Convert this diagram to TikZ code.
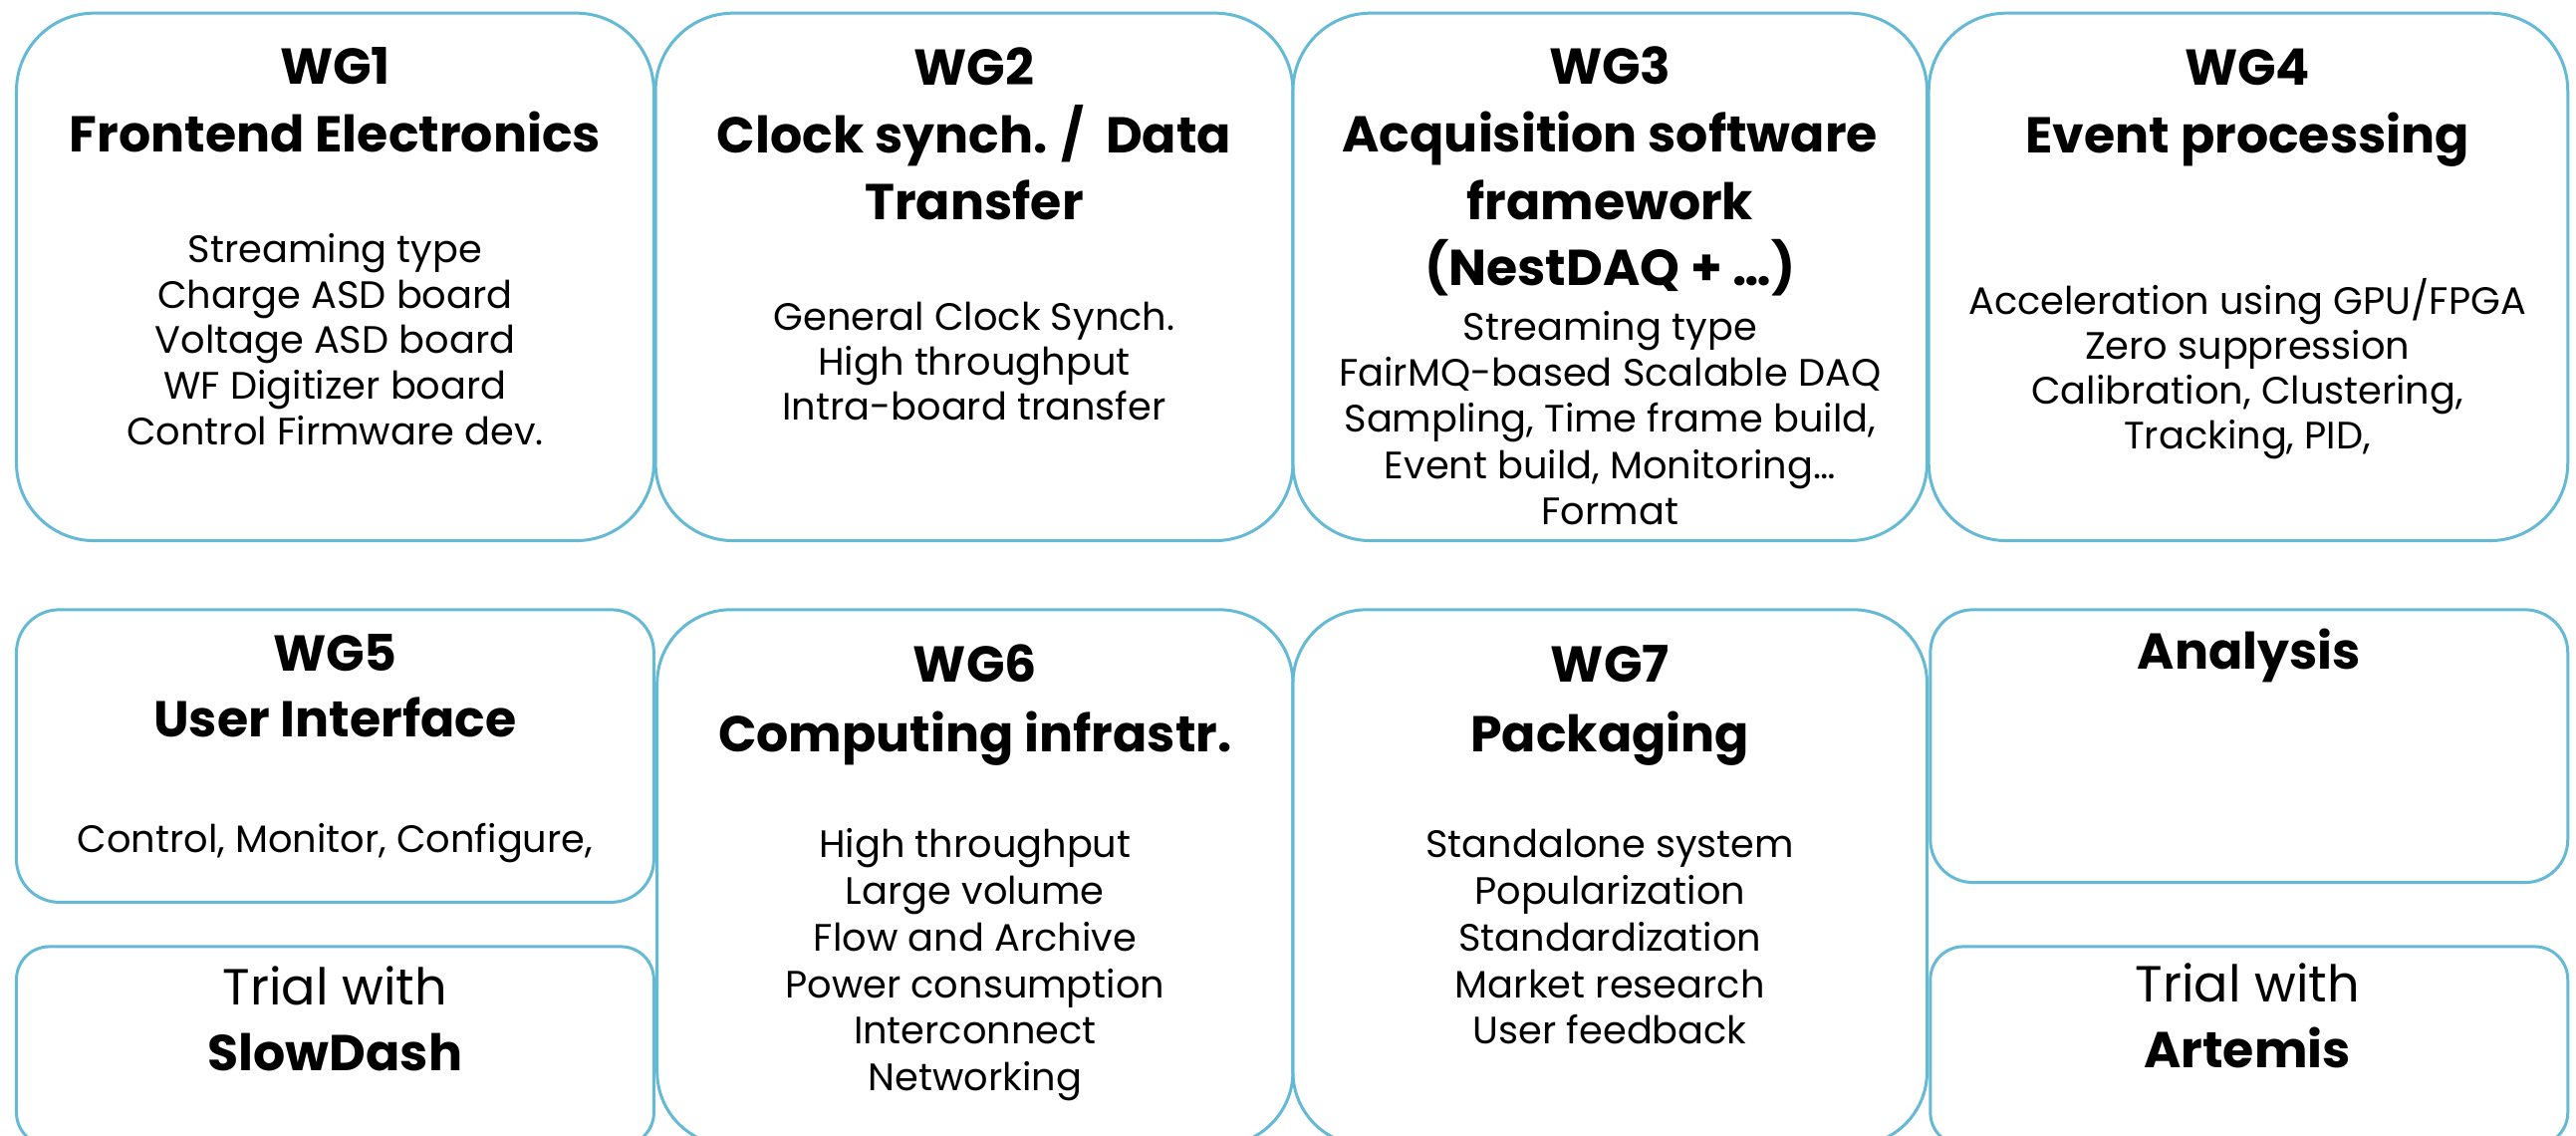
\documentclass[tikz,border=0pt]{standalone}
\usepackage{fontspec}
\setmainfont{Poppins}
\definecolor{boxblue}{RGB}{100,186,214}
\tikzset{
  box/.style={draw=boxblue, line width=0.85pt},
  ttl/.style={font=\fontsize{14.4}{16}\selectfont\bfseries, anchor=mid, inner sep=0pt},
  bdy/.style={font=\fontsize{10.9}{12}\selectfont, anchor=mid, inner sep=0pt},
  big/.style={font=\fontsize{14.5}{16}\selectfont, anchor=mid, inner sep=0pt},
}
\begin{document}
\begin{tikzpicture}[x=0.016492cm, y=-0.016492cm]
\useasboundingbox (0,0) rectangle (1568,691);
\fill[white] (0,0) rectangle (1568,691);
\clip (0,0) rectangle (1568,691);
% boxes
\draw[box, rounded corners=0.78cm] (10,8) rectangle (398,329);
\draw[box, rounded corners=0.78cm] (399,8) rectangle (787,329);
\draw[box, rounded corners=0.78cm] (787,8) rectangle (1173,329);
\draw[box, rounded corners=0.78cm] (1174,8) rectangle (1563,329);
\draw[box, rounded corners=0.43cm] (10,371) rectangle (398,549);
\draw[box, rounded corners=0.33cm] (10,576) rectangle (398,697);
\draw[box, rounded corners=0.74cm] (400,371) rectangle (787,697);
\draw[box, rounded corners=0.74cm] (787,371) rectangle (1173,697);
\draw[box, rounded corners=0.43cm] (1175,371) rectangle (1563,537);
\draw[box, rounded corners=0.33cm] (1175,576) rectangle (1563,697);
% WG1
\node[ttl] (wg1t1) at (204,45.5) {WG1};
\node[ttl] (wg1t2) at (204,86.6) {Frontend Electronics};
\foreach \t [count=\i from 0] in {Streaming type, Charge ASD board, Voltage ASD board, WF Digitizer board, Control Firmware dev.}
  \node[bdy] (wg1b\i) at (204,154+27.7*\i) {\t};
% WG2
\node[ttl] (wg2t1) at (593,46) {WG2};
\node[ttl] (wg2t2) at (593,87) {Clock synch. /~ Data};
\node[ttl] (wg2t3) at (593,128) {Transfer};
\foreach \t [count=\i from 0] in {General Clock Synch., High throughput, Intra-board transfer}
  \node[bdy] (wg2b\i) at (593,195+27.5*\i) {\t};
% WG3
\node[ttl] (wg3t1) at (980,45.5) {WG3};
\node[ttl] (wg3t2) at (980,86.6) {Acquisition software};
\node[ttl] (wg3t3) at (980,127.7) {framework};
\node[ttl] (wg3t4) at (980,168) {(NestDAQ + …)};
\foreach \t [count=\i from 0] in {Streaming type, FairMQ-based Scalable DAQ, {Sampling, Time frame build,}, {Event build, Monitoring…}, Format}
  \node[bdy] (wg3b\i) at (980,201+28.1*\i) {\t};
% WG4
\node[ttl] (wg4t1) at (1368,46) {WG4};
\node[ttl] (wg4t2) at (1368,87) {Event processing};
\foreach \t [count=\i from 0] in {Acceleration using GPU/FPGA, Zero suppression, {Calibration, Clustering,}, {Tracking, PID,}}
  \node[bdy] (wg4b\i) at (1368,185.5+27.3*\i) {\t};
% WG5
\node[ttl] (wg5t1) at (204,402.5) {WG5};
\node[ttl] (wg5t2) at (204,442.5) {User Interface};
\node[bdy] (wg5b0) at (204,512.8) {Control, Monitor, Configure,};
% SlowDash
\node[big] (sd1) at (204,605.7) {Trial with};
\node[ttl] (sd2) at (204,645.7) {SlowDash};
% WG6
\node[ttl] (wg6t1) at (593.5,409) {WG6};
\node[ttl] (wg6t2) at (593.5,451.5) {Computing infrastr.};
\foreach \t [count=\i from 0] in {High throughput, Large volume, Flow and Archive, Power consumption, Interconnect, Networking}
  \node[bdy] (wg6b\i) at (593.5,516+28.4*\i) {\t};
% WG7
\node[ttl] (wg7t1) at (980,409) {WG7};
\node[ttl] (wg7t2) at (980,451.5) {Packaging};
\foreach \t [count=\i from 0] in {Standalone system, Popularization, Standardization, Market research, User feedback}
  \node[bdy] (wg7b\i) at (980,516+28.4*\i) {\t};
% Analysis
\node[ttl] (ana) at (1369,401.4) {Analysis};
% Artemis
\node[big] (ar1) at (1368,603.6) {Trial with};
\node[ttl] (ar2) at (1368,643.6) {Artemis};
\end{tikzpicture}
\end{document}
